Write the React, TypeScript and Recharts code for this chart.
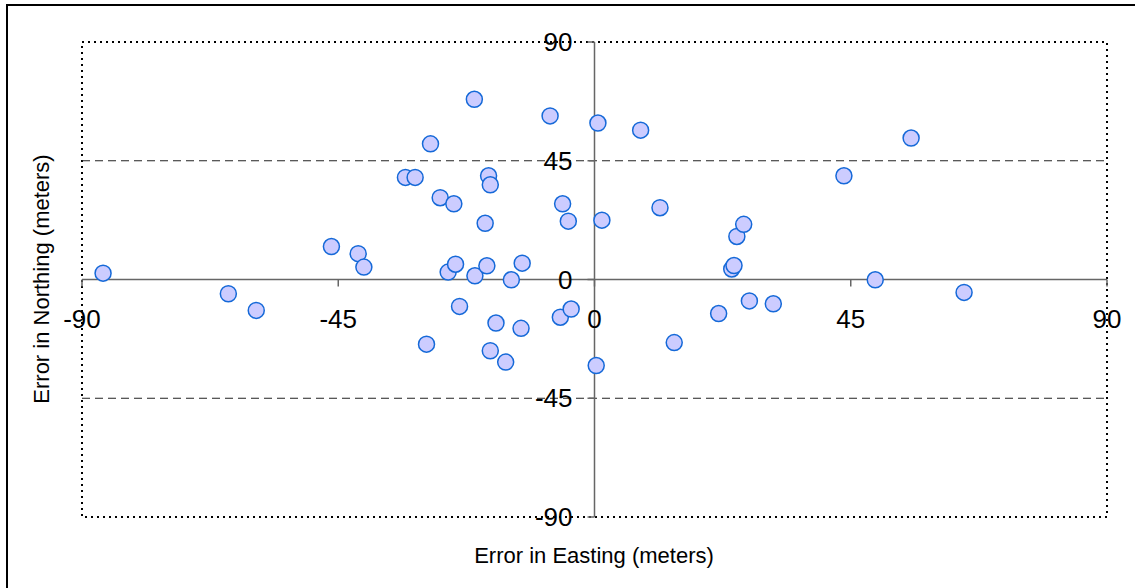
import React from "react";
import {
  ScatterChart,
  Scatter,
  XAxis,
  YAxis,
  ReferenceLine,
  ReferenceArea,
  ReferenceDot,
} from "recharts";

// error values (meters)
const easting = [
  -86.3, -64.3, -59.4, -46.2, -41.5, -40.5, -33.2, -31.5, -28.8, -29.5,
  -27.1, -24.7, -25.7, -24.4, -23.7, -21.1, -21.0, -19.2, -18.9, -18.6,
  -18.3, -18.3, -17.3, -15.6, -14.6, -12.9, -12.7, -7.8, -5.6, -4.6,
  -6.0, -4.1, 0.6, 1.3, 0.3, 8.1, 11.5, 14.0, 21.8, 24.1,
  24.5, 25.0, 26.2, 27.2, 31.4, 43.8, 49.3, 55.6, 64.9,
];
const northing = [
  2.4, -5.4, -11.7, 12.5, 9.8, 4.7, 38.7, 38.7, 51.4, -24.5,
  31.0, 28.7, 2.8, 5.8, -10.2, 68.3, 1.4, 21.3, 5.2, 39.3,
  35.9, -27.0, -16.5, -31.3, -0.1, -18.5, 6.2, 62.0, 28.7, 22.1,
  -14.3, -11.2, 59.3, 22.5, -32.6, 56.6, 27.2, -23.9, -12.9, 4.0,
  5.3, 16.3, 20.9, -8.1, -9.2, 39.3, -0.1, 53.6, -4.9,
];
const xTicks = [-90, -45, 0, 45, 90];
const yTicks = [-90, -45, 0, 45, 90];
const gridValues = [-45, 45];

const points = easting.map((x, i) => ({ x, y: northing[i] }));

const FONT = "Arial, 'Liberation Sans', sans-serif";
const AXIS_COLOR = "#666";

const XTickMark = (props: any) => {
  const { cx, cy, value } = props;
  return (
    <g>
      <line x1={cx} y1={cy} x2={cx} y2={cy + 7} stroke={AXIS_COLOR} strokeWidth={1.5} />
      <text x={cx} y={cy + 39} textAnchor="middle" dominantBaseline="central" fontSize={26} fontFamily={FONT} fill="#000">
        {value}
      </text>
    </g>
  );
};

const YTickMark = (props: any) => {
  const { cx, cy, value } = props;
  return (
    <g>
      <line x1={cx} y1={cy} x2={cx - 7} y2={cy} stroke={AXIS_COLOR} strokeWidth={1.5} />
      <text x={cx - 22} y={cy} textAnchor="end" dominantBaseline="central" fontSize={26} fontFamily={FONT} fill="#000">
        {value}
      </text>
    </g>
  );
};

const Dot = (props: any) => (
  <circle cx={props.cx} cy={props.cy} r={8} fill="#CCCCFF" stroke="#1569d8" strokeWidth={1.5} />
);

export default function App() {
  return (
    <div style={{ position: "absolute", left: 0, top: 0, width: 1135, height: 588, overflow: "hidden", background: "#fff" }}>
      <div
        style={{
          position: "absolute",
          left: 6,
          top: 4,
          width: 1160,
          height: 620,
          border: "2px solid #000",
        }}
      />
      <div style={{ position: "absolute", left: 0, top: 0 }}>
        <ScatterChart width={1135} height={588} margin={{ top: 42, left: 82, right: 28, bottom: 71 }}>
          <XAxis type="number" dataKey="x" domain={[-90, 90]} ticks={xTicks} hide />
          <YAxis type="number" dataKey="y" domain={[-90, 90]} ticks={yTicks} hide />
          <ReferenceArea
            x1={-90}
            x2={90}
            y1={-90}
            y2={90}
            fill="none"
            stroke="#000"
            strokeWidth={2}
            strokeDasharray="2 4"
          />
          {gridValues.map((v) => (
            <ReferenceLine key={"g" + v} y={v} stroke="#222" strokeDasharray="8 5" />
          ))}
          <ReferenceLine y={0} stroke={AXIS_COLOR} strokeWidth={1.5} />
          <ReferenceLine x={0} stroke={AXIS_COLOR} strokeWidth={1.5} />
          {xTicks.map((t) => (
            <ReferenceDot key={"xt" + t} x={t} y={0} r={0} shape={(p: any) => <XTickMark {...p} value={t} />} />
          ))}
          {yTicks.map((t) => (
            <ReferenceDot key={"yt" + t} x={0} y={t} r={0} shape={(p: any) => <YTickMark {...p} value={t} />} />
          ))}
          <Scatter data={points} shape={Dot} isAnimationActive={false} />
        </ScatterChart>
      </div>
      <div
        style={{
          position: "absolute",
          left: 594,
          top: 556,
          transform: "translate(-50%, -50%)",
          whiteSpace: "nowrap",
          fontFamily: FONT,
          fontSize: 22,
        }}
      >
        Error in Easting (meters)
      </div>
      <div
        style={{
          position: "absolute",
          left: 42,
          top: 279,
          transform: "translate(-50%, -50%) rotate(-90deg)",
          whiteSpace: "nowrap",
          fontFamily: FONT,
          fontSize: 22,
        }}
      >
        Error in Northing (meters)
      </div>
    </div>
  );
}
